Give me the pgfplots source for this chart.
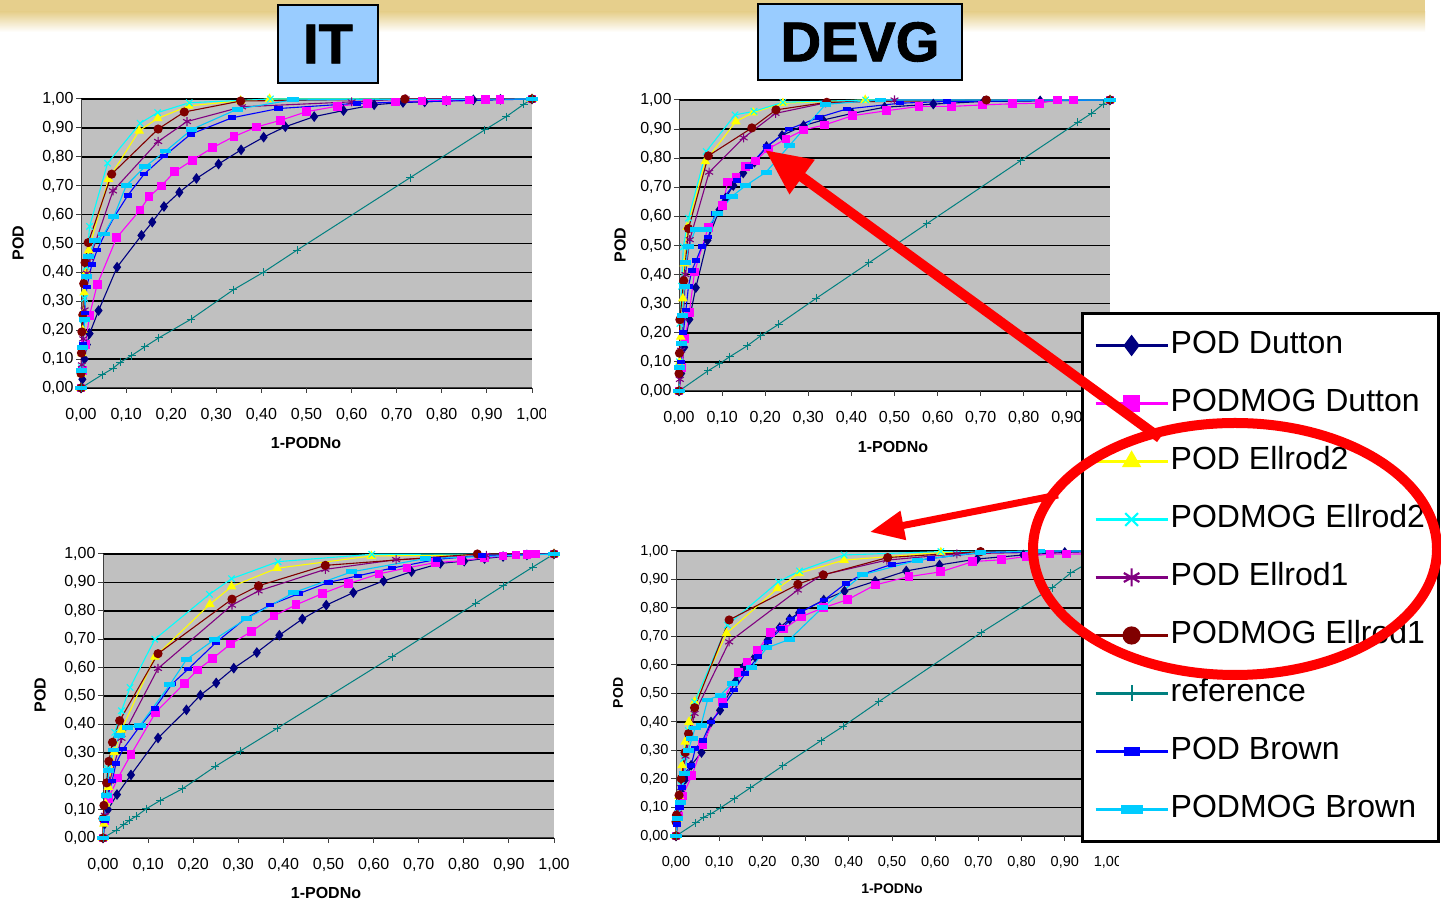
\documentclass[border=0pt]{standalone}
\usepackage{fontspec}
\setmainfont{Liberation Sans}
\newfontfamily\titlefont[FakeBold=1.6]{Liberation Sans Bold}
\usepackage{pgfplots}
\pgfplotsset{compat=1.18}
\usetikzlibrary{arrows.meta}
\definecolor{cDut}{HTML}{000080}
\definecolor{cMDut}{HTML}{FF00FF}
\definecolor{cE2}{HTML}{FFFF00}
\definecolor{cME2}{HTML}{00FFFF}
\definecolor{cE1}{HTML}{800080}
\definecolor{cME1}{HTML}{800000}
\definecolor{cRef}{HTML}{008080}
\definecolor{cBr}{HTML}{0000FF}
\definecolor{cMBr}{HTML}{00CCFF}
\definecolor{plotgray}{HTML}{C0C0C0}
\definecolor{titleblue}{HTML}{99CCFF}
\definecolor{band}{HTML}{E6CF8C}
\pgfplotsset{
  rocax/.style={
    scale only axis, xmin=0, xmax=1, ymin=0, ymax=1, clip=false,
    axis background/.style={fill=plotgray},
    axis x line*=bottom, axis y line*=left,
    axis line style={black!75, line width=1pt},
    ymajorgrids, major grid style={black, line width=1.6pt},
    xtick={0,0.1,0.2,0.3,0.4,0.5,0.6,0.7,0.8,0.9,1},
    ytick={0,0.1,0.2,0.3,0.4,0.5,0.6,0.7,0.8,0.9,1},
    tick align=outside, major tick length=5pt,
    tick style={black!75, line width=1pt},
    tick label style={font=\fontsize{16}{16}\selectfont},
    xticklabel style={yshift=-12pt},
    yticklabel style={xshift=1pt},
    /pgf/number format/use comma,
    /pgf/number format/fixed,
    /pgf/number format/fixed zerofill,
    /pgf/number format/precision=2,
    /pgf/number format/assume math mode=true,
  },
  sDut/.style={cDut, line width=1.1pt, mark=diamond*, mark size=4.5pt},
  sMDut/.style={cMDut, line width=1.1pt, mark=square*, mark size=3.8pt},
  sE2/.style={cE2, line width=1.1pt, mark=triangle*, mark size=4.5pt},
  sME2/.style={cME2, line width=1.1pt, mark=x, mark size=4.5pt},
  sE1/.style={cE1, line width=1.1pt, mark=asterisk, mark size=4.5pt},
  sME1/.style={cME1, line width=1.1pt, mark=*, mark size=4pt},
  sRef/.style={cRef, line width=1pt, mark=+, mark size=4pt},
  sBr/.style={cBr, line width=1.1pt, mark=square*, mark size=3.5pt, every mark/.append style={yscale=0.5}},
  sMBr/.style={cMBr, line width=1.1pt, mark=square*, mark size=5pt, every mark/.append style={yscale=0.38}},
}
\begin{document}
\begin{tikzpicture}[x=1pt,y=1pt]
\useasboundingbox (0,0) rectangle (1441,904);
\fill[white] (0,0) rectangle (1441,904);
\fill[band] (0,892) rectangle (1425,904);
\shade[top color=band, bottom color=white] (0,872) rectangle (1425,892.2);

% ---------------- IT top ----------------
\begin{axis}[rocax, at={(81pt,516pt)}, anchor=south west, width=451pt, height=289pt]
\addplot[sDut] coordinates {(0,0) (0.003,0.03) (0.008,0.1) (0.013,0.15) (0.019,0.188) (0.039,0.268) (0.08,0.418) (0.134,0.528) (0.158,0.574) (0.184,0.628) (0.218,0.677) (0.256,0.725) (0.305,0.775) (0.355,0.824) (0.405,0.868) (0.453,0.904) (0.517,0.939) (0.582,0.96) (0.65,0.98) (0.714,0.988) (0.762,0.99) (0.81,0.994) (0.87,0.997) (0.93,0.999) (1,1)};
\addplot[sMDut] coordinates {(0,0) (0.004,0.06) (0.01,0.15) (0.019,0.252) (0.036,0.358) (0.079,0.52) (0.131,0.616) (0.151,0.662) (0.178,0.699) (0.208,0.749) (0.247,0.788) (0.292,0.832) (0.339,0.87) (0.389,0.903) (0.442,0.926) (0.5,0.956) (0.568,0.975) (0.635,0.985) (0.697,0.99) (0.756,0.993) (0.81,0.995) (0.862,0.997) (0.897,0.998) (0.929,0.999) (1,1)};
\addplot[sE2] coordinates {(0,0) (0.001,0.05) (0.002,0.12) (0.004,0.2) (0.005,0.26) (0.007,0.33) (0.011,0.4) (0.017,0.476) (0.061,0.723) (0.129,0.89) (0.17,0.933) (0.239,0.976) (0.354,0.994) (0.418,1) (1,1)};
\addplot[sME2] coordinates {(0,0) (0.001,0.07) (0.003,0.15) (0.005,0.236) (0.008,0.31) (0.012,0.42) (0.019,0.559) (0.059,0.778) (0.131,0.916) (0.17,0.953) (0.24,0.987) (0.42,1) (1,1)};
\addplot[sE1] coordinates {(0,0) (0.002,0.08) (0.005,0.17) (0.008,0.27) (0.013,0.397) (0.02,0.45) (0.071,0.682) (0.171,0.853) (0.235,0.922) (0.357,0.973) (0.6,0.99) (0.72,1) (1,1)};
\addplot[sME1] coordinates {(0,0) (0,0.05) (0.001,0.121) (0.002,0.194) (0.004,0.253) (0.006,0.361) (0.009,0.434) (0.016,0.503) (0.068,0.74) (0.171,0.896) (0.229,0.955) (0.354,0.993) (0.718,1) (1,1)};
\addplot[sRef] coordinates {(0,0) (0.047,0.046) (0.071,0.068) (0.087,0.089) (0.112,0.112) (0.141,0.142) (0.172,0.173) (0.244,0.238) (0.338,0.34) (0.404,0.4) (0.479,0.477) (0.73,0.728) (0.895,0.893) (0.943,0.939) (0.982,0.982) (1,1)};
\addplot[sBr] coordinates {(0,0) (0.002,0.06) (0.004,0.15) (0.008,0.26) (0.013,0.35) (0.024,0.427) (0.036,0.478) (0.053,0.533) (0.074,0.593) (0.104,0.667) (0.14,0.74) (0.185,0.803) (0.243,0.878) (0.335,0.935) (0.438,0.967) (0.612,0.985) (1,1)};
\addplot[sMBr] coordinates {(0,0) (0.002,0.06) (0.004,0.14) (0.008,0.236) (0.012,0.386) (0.017,0.455) (0.031,0.509) (0.051,0.533) (0.073,0.593) (0.1,0.7) (0.142,0.766) (0.188,0.82) (0.246,0.895) (0.347,0.965) (0.47,0.997) (1,1)};
\end{axis}

% ---------------- DEVG top ----------------
\begin{axis}[rocax, at={(679pt,513pt)}, anchor=south west, width=431pt, height=291pt]
\addplot[sDut] coordinates {(0,0) (0.005,0.06) (0.012,0.15) (0.024,0.246) (0.039,0.355) (0.066,0.518) (0.094,0.623) (0.108,0.663) (0.126,0.706) (0.149,0.749) (0.175,0.786) (0.203,0.84) (0.239,0.878) (0.289,0.912) (0.334,0.931) (0.402,0.954) (0.477,0.975) (0.59,0.986) (0.707,0.995) (0.838,0.997) (1,1)};
\addplot[sMDut] coordinates {(0,0) (0.006,0.08) (0.014,0.18) (0.024,0.269) (0.036,0.409) (0.068,0.563) (0.101,0.637) (0.113,0.718) (0.132,0.735) (0.155,0.771) (0.177,0.79) (0.207,0.832) (0.248,0.866) (0.289,0.897) (0.337,0.914) (0.402,0.946) (0.481,0.963) (0.557,0.978) (0.633,0.978) (0.704,0.983) (0.774,0.987) (0.837,0.989) (0.878,1) (0.916,1) (1,1)};
\addplot[sE2] coordinates {(0,0) (0.002,0.1) (0.004,0.186) (0.009,0.318) (0.012,0.438) (0.019,0.563) (0.061,0.789) (0.132,0.926) (0.172,0.957) (0.241,0.989) (0.432,1) (1,1)};
\addplot[sME2] coordinates {(0,0) (0.001,0.1) (0.002,0.232) (0.006,0.36) (0.01,0.495) (0.022,0.594) (0.063,0.823) (0.13,0.949) (0.174,0.961) (0.241,0.992) (0.433,1) (1,1)};
\addplot[sE1] coordinates {(0,0) (0.002,0.04) (0.005,0.14) (0.01,0.25) (0.015,0.4) (0.025,0.52) (0.07,0.752) (0.15,0.87) (0.224,0.954) (0.34,0.99) (0.5,1) (1,1)};
\addplot[sME1] coordinates {(0,0) (0,0.06) (0.001,0.13) (0.002,0.245) (0.011,0.379) (0.022,0.558) (0.068,0.808) (0.169,0.904) (0.225,0.966) (0.343,0.992) (0.713,1) (1,1)};
\addplot[sRef] coordinates {(0,0) (0.067,0.069) (0.093,0.093) (0.118,0.118) (0.158,0.155) (0.19,0.19) (0.231,0.229) (0.318,0.318) (0.44,0.44) (0.575,0.575) (0.793,0.792) (0.925,0.923) (0.958,0.955) (0.984,0.986) (1,1)};
\addplot[sBr] coordinates {(0,0) (0.004,0.1) (0.01,0.2) (0.016,0.278) (0.022,0.36) (0.03,0.415) (0.04,0.449) (0.053,0.497) (0.068,0.529) (0.084,0.609) (0.105,0.666) (0.134,0.723) (0.162,0.771) (0.204,0.84) (0.256,0.9) (0.324,0.94) (0.389,0.969) (0.513,0.989) (0.621,0.995) (1,1)};
\addplot[sMBr] coordinates {(0,0) (0.002,0.08) (0.005,0.163) (0.008,0.26) (0.012,0.358) (0.016,0.44) (0.022,0.495) (0.038,0.554) (0.063,0.554) (0.09,0.61) (0.123,0.669) (0.155,0.706) (0.202,0.752) (0.256,0.843) (0.34,0.985) (0.467,1) (1,1)};
\end{axis}

% ---------------- IT bottom ----------------
\begin{axis}[rocax, at={(103pt,66pt)}, anchor=south west, width=451pt, height=284pt]
\addplot[sDut] coordinates {(0,0) (0.004,0.05) (0.011,0.1) (0.031,0.153) (0.062,0.222) (0.122,0.352) (0.185,0.451) (0.216,0.503) (0.251,0.546) (0.29,0.598) (0.341,0.653) (0.391,0.714) (0.442,0.771) (0.495,0.82) (0.555,0.864) (0.622,0.905) (0.684,0.938) (0.748,0.967) (0.801,0.975) (0.846,0.984) (0.887,0.991) (0.94,0.997) (1,1)};
\addplot[sMDut] coordinates {(0,0) (0.004,0.06) (0.012,0.14) (0.033,0.211) (0.062,0.294) (0.117,0.443) (0.181,0.545) (0.209,0.591) (0.243,0.632) (0.283,0.683) (0.329,0.727) (0.379,0.782) (0.428,0.821) (0.487,0.861) (0.545,0.896) (0.612,0.93) (0.674,0.951) (0.738,0.97) (0.794,0.976) (0.846,0.987) (0.887,0.993) (0.916,0.996) (0.94,0.998) (0.959,1) (1,1)};
\addplot[sE2] coordinates {(0,0) (0.002,0.05) (0.006,0.12) (0.012,0.179) (0.025,0.302) (0.041,0.381) (0.115,0.638) (0.237,0.823) (0.285,0.885) (0.386,0.95) (0.595,0.993) (1,1)};
\addplot[sME2] coordinates {(0,0) (0.002,0.07) (0.005,0.15) (0.01,0.244) (0.026,0.372) (0.041,0.448) (0.06,0.53) (0.115,0.7) (0.236,0.858) (0.285,0.913) (0.388,0.973) (0.596,0.999) (1,1)};
\addplot[sE1] coordinates {(0,0) (0.004,0.08) (0.015,0.2) (0.041,0.351) (0.122,0.597) (0.286,0.82) (0.345,0.87) (0.493,0.946) (0.65,0.98) (0.85,0.995) (1,1)};
\addplot[sME1] coordinates {(0,0) (0,0.068) (0.002,0.115) (0.008,0.194) (0.013,0.27) (0.021,0.337) (0.037,0.413) (0.122,0.649) (0.286,0.841) (0.345,0.888) (0.493,0.96) (0.83,1) (1,1)};
\addplot[sRef] coordinates {(0,0) (0.029,0.027) (0.046,0.047) (0.058,0.062) (0.074,0.077) (0.096,0.103) (0.127,0.132) (0.176,0.173) (0.249,0.252) (0.304,0.306) (0.386,0.386) (0.641,0.638) (0.827,0.827) (0.887,0.888) (0.953,0.954) (1,1)};
\addplot[sBr] coordinates {(0,0) (0.004,0.06) (0.011,0.15) (0.02,0.2) (0.029,0.263) (0.045,0.314) (0.08,0.39) (0.115,0.457) (0.153,0.542) (0.189,0.595) (0.251,0.689) (0.316,0.773) (0.37,0.82) (0.435,0.861) (0.5,0.9) (0.565,0.923) (0.64,0.95) (0.74,0.981) (0.84,0.995) (1,1)};
\addplot[sMBr] coordinates {(0,0) (0.004,0.07) (0.008,0.15) (0.013,0.238) (0.023,0.31) (0.037,0.361) (0.055,0.39) (0.082,0.396) (0.148,0.539) (0.185,0.628) (0.248,0.7) (0.319,0.773) (0.423,0.864) (0.551,0.937) (0.715,0.984) (1,1)};
\end{axis}

% ---------------- DEVG bottom (with legend) ----------------
\begin{axis}[rocax, at={(676pt,68pt)}, anchor=south west, width=432pt, height=285pt,
  tick label style={font=\fontsize{14.5}{14.5}\selectfont},
  legend style={at={(0.9375,1.8386)}, anchor=north west, draw=black, line width=3pt, fill=white,
    font=\fontsize{32}{34}\selectfont, inner xsep=12pt, inner ysep=14pt, row sep=22pt,
    nodes={inner sep=2pt, text height=24pt, text depth=8pt, xshift=2pt}},
  legend cell align=left,
  legend image code/.code={\draw[mark repeat=2,mark phase=2,#1] plot coordinates {(0pt,0pt) (36pt,0pt) (72pt,0pt)};},
  legend image post style={line width=2.2pt, /tikz/every mark/.append style={scale=2}},
]
\addplot[sDut] coordinates {(0,0) (0.005,0.06) (0.013,0.15) (0.022,0.2) (0.035,0.248) (0.059,0.293) (0.081,0.4) (0.102,0.441) (0.138,0.543) (0.157,0.594) (0.183,0.629) (0.212,0.687) (0.24,0.731) (0.263,0.761) (0.285,0.783) (0.342,0.828) (0.39,0.859) (0.461,0.894) (0.533,0.93) (0.61,0.951) (0.697,0.972) (0.804,0.986) (0.9,0.995) (1,1)};
\addlegendentry{POD Dutton}
\addplot[sMDut] coordinates {(0,0) (0.006,0.07) (0.015,0.14) (0.037,0.213) (0.062,0.321) (0.107,0.473) (0.145,0.574) (0.164,0.611) (0.189,0.65) (0.218,0.714) (0.249,0.726) (0.291,0.77) (0.341,0.801) (0.397,0.829) (0.461,0.881) (0.539,0.91) (0.613,0.927) (0.687,0.963) (0.753,0.969) (0.811,0.981) (0.866,0.989) (0.904,0.989) (0.96,0.99) (1,1)};
\addlegendentry{PODMOG Dutton}
\addplot[sE2] coordinates {(0,0) (0.003,0.06) (0.007,0.14) (0.014,0.248) (0.021,0.33) (0.03,0.4) (0.043,0.471) (0.117,0.711) (0.235,0.869) (0.285,0.922) (0.389,0.968) (0.613,0.995) (1,1)};
\addlegendentry{POD Ellrod2}
\addplot[sME2] coordinates {(0,0) (0.004,0.08) (0.012,0.178) (0.018,0.272) (0.028,0.37) (0.043,0.47) (0.119,0.74) (0.237,0.892) (0.286,0.93) (0.389,0.986) (0.613,0.998) (1,1)};
\addlegendentry{PODMOG Ellrod2}
\addplot[sE1] coordinates {(0,0) (0.005,0.08) (0.012,0.17) (0.022,0.28) (0.043,0.43) (0.123,0.681) (0.282,0.863) (0.339,0.916) (0.488,0.968) (0.65,0.99) (1,1)};
\addlegendentry{POD Ellrod1}
\addplot[sME1] coordinates {(0,0) (0,0.05) (0.001,0.073) (0.007,0.143) (0.012,0.201) (0.021,0.293) (0.029,0.359) (0.043,0.45) (0.123,0.758) (0.282,0.883) (0.341,0.916) (0.49,0.977) (0.705,0.998) (1,1)};
\addlegendentry{PODMOG Ellrod1}
\addplot[sRef] coordinates {(0,0) (0.046,0.046) (0.064,0.066) (0.081,0.078) (0.102,0.098) (0.135,0.131) (0.172,0.169) (0.247,0.246) (0.336,0.335) (0.387,0.385) (0.469,0.471) (0.706,0.713) (0.871,0.871) (0.914,0.923) (1,1)};
\addlegendentry{reference}
\addplot[sBr] coordinates {(0,0) (0.003,0.04) (0.008,0.1) (0.013,0.17) (0.02,0.22) (0.035,0.248) (0.045,0.307) (0.062,0.336) (0.081,0.4) (0.11,0.457) (0.135,0.512) (0.16,0.57) (0.19,0.63) (0.212,0.681) (0.244,0.728) (0.267,0.761) (0.29,0.787) (0.343,0.828) (0.393,0.886) (0.431,0.918) (0.499,0.953) (0.59,0.974) (0.709,0.995) (1,1)};
\addlegendentry{POD Brown}
\addplot[sMBr] coordinates {(0,0) (0.004,0.06) (0.01,0.119) (0.02,0.22) (0.028,0.3) (0.037,0.342) (0.044,0.379) (0.058,0.389) (0.073,0.477) (0.102,0.494) (0.13,0.535) (0.174,0.59) (0.21,0.66) (0.263,0.69) (0.339,0.801) (0.431,0.916) (0.56,0.968) (0.705,0.995) (0.842,1) (1,1)};
\addlegendentry{PODMOG Brown}
\end{axis}

% cut-off tick labels
\fill[white] (546,466) rectangle (600,506);
\fill[white] (1119,16) rectangle (1170,60);

% axis titles
\node[rotate=90, font=\bfseries\fontsize{16}{16}\selectfont] at (18,661) {POD};
\node[rotate=90, font=\bfseries\fontsize{16}{16}\selectfont] at (620,659) {POD};
\node[rotate=90, font=\bfseries\fontsize{16}{16}\selectfont] at (40,209) {POD};
\node[rotate=90, font=\bfseries\fontsize{14}{14}\selectfont] at (618,211) {POD};
\node[font=\bfseries\fontsize{16}{16}\selectfont] at (306,461) {1-PODNo};
\node[font=\bfseries\fontsize{16}{16}\selectfont] at (893,457) {1-PODNo};
\node[font=\bfseries\fontsize{16}{16}\selectfont] at (326,11) {1-PODNo};
\node[font=\bfseries\fontsize{14}{14}\selectfont] at (892,15) {1-PODNo};

% title boxes
\draw[fill=titleblue, line width=2pt] (278,821) rectangle (378,899);
\node[font=\titlefont\fontsize{56}{56}\selectfont] at (328,860) {IT};
\draw[fill=titleblue, line width=2pt] (758,824) rectangle (962,900);
\node[font=\titlefont\fontsize{56}{56}\selectfont] at (860,862) {DEVG};

% red annotations
\draw[red, line width=10pt, -{Triangle[length=46pt,width=40pt]}] (1160,466) -- (765,754);
\draw[red, line width=7pt, -{Triangle[length=34pt,width=28pt]}] (1058,409) -- (870,372);
\draw[red, line width=10pt] (1235,355) ellipse [x radius=202, y radius=126];
\end{tikzpicture}
\end{document}
